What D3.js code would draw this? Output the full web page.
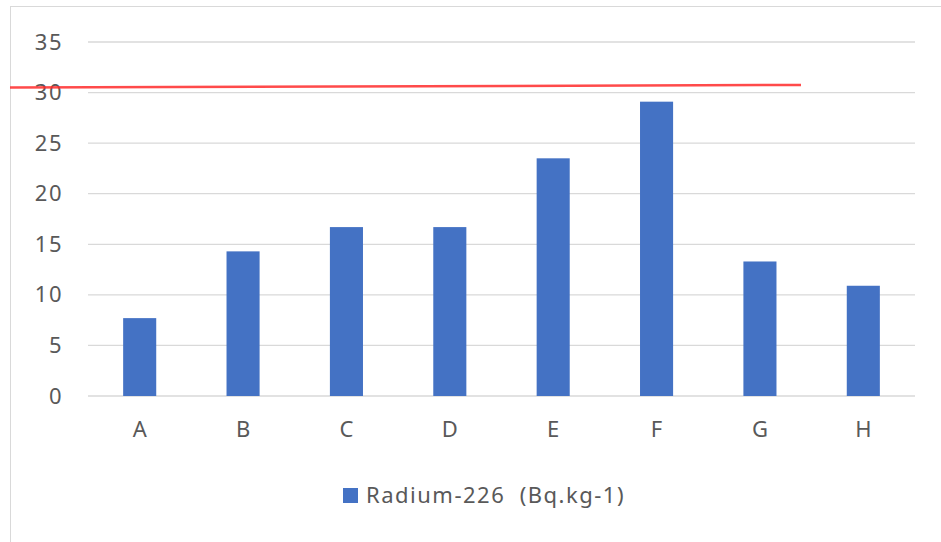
<!DOCTYPE html>
<html>
<head>
<meta charset="utf-8">
<script src="https://cdn.jsdelivr.net/npm/d3@7"></script>
<style>
    body { margin: 0; background: #fff; }
    svg { display: block; font-family: "Noto Sans", "Open Sans", sans-serif; }
</style>
</head>
<body>
<svg id="chart"></svg>
<script>
// data
const categories = ["A", "B", "C", "D", "E", "F", "G", "H"];
const radium = [7.7, 14.3, 16.7, 16.7, 23.5, 29.1, 13.3, 10.9];
const yTicks = [0, 5, 10, 15, 20, 25, 30, 35];
const seriesName = "Radium-226  (Bq.kg-1)";
// hand drawn red limit line (start / end value)
const limitLine = [30.5, 30.75];

const width = 941, height = 542;
const margin = { top: 42, right: 26, bottom: 146, left: 88 };

const svg = d3.select("#chart")
    .attr("width", width)
    .attr("height", height);

// chart frame
svg.append("rect")
    .attr("x", 10.5).attr("y", 6.5)
    .attr("width", 935).attr("height", 540)
    .attr("fill", "none")
    .attr("stroke", "#d9d9d9");

const x = d3.scaleBand()
    .domain(categories)
    .range([margin.left, width - margin.right])
    .paddingInner(0.68)
    .paddingOuter(0.34);

const y = d3.scaleLinear()
    .domain([0, 35])
    .range([height - margin.bottom, margin.top]);

// gridlines
svg.append("g")
    .selectAll("line")
    .data(yTicks)
    .join("line")
    .attr("x1", margin.left)
    .attr("x2", width - margin.right)
    .attr("y1", d => y(d))
    .attr("y2", d => y(d))
    .attr("stroke", "#d9d9d9")
    .attr("stroke-width", 1.3);

// y axis labels
const yAxis = svg.append("g")
    .attr("transform", `translate(${margin.left - 25}, 0)`)
    .call(d3.axisLeft(y).tickValues(yTicks).tickSize(0).tickPadding(0));
yAxis.select(".domain").remove();
yAxis.selectAll("text")
    .attr("fill", "#595959")
    .style("font-family", "'Noto Sans', sans-serif")
    .style("font-size", "22px")
    .style("letter-spacing", "1.5px");

// bars
svg.append("g")
    .selectAll("rect")
    .data(radium)
    .join("rect")
    .attr("x", (d, i) => x(categories[i]))
    .attr("y", d => y(d))
    .attr("width", x.bandwidth())
    .attr("height", d => y(0) - y(d))
    .attr("fill", "#4472c4");

// x axis labels
const xAxis = svg.append("g")
    .attr("transform", `translate(0, ${y(0) + 25})`)
    .call(d3.axisBottom(x).tickSize(0).tickPadding(0));
xAxis.select(".domain").remove();
xAxis.selectAll("text")
    .attr("fill", "#595959")
    .style("font-family", "'Noto Sans', sans-serif")
    .style("font-size", "22px");

// red line
svg.append("line")
    .attr("x1", 10)
    .attr("x2", 801)
    .attr("y1", y(limitLine[0]))
    .attr("y2", y(limitLine[1]))
    .attr("stroke", "#ff2a2a")
    .attr("stroke-opacity", 0.85)
    .attr("stroke-width", 2.5);

// legend
const legend = svg.append("g").attr("transform", "translate(343, 488)");
legend.append("rect")
    .attr("width", 15).attr("height", 15)
    .attr("fill", "#4472c4");
legend.append("text")
    .attr("x", 23).attr("y", 15)
    .attr("fill", "#595959")
    .style("font-family", "'Noto Sans', sans-serif")
    .style("font-size", "22px")
    .style("letter-spacing", "1.5px")
    .style("white-space", "pre")
    .text(seriesName);
</script>
</body>
</html>
